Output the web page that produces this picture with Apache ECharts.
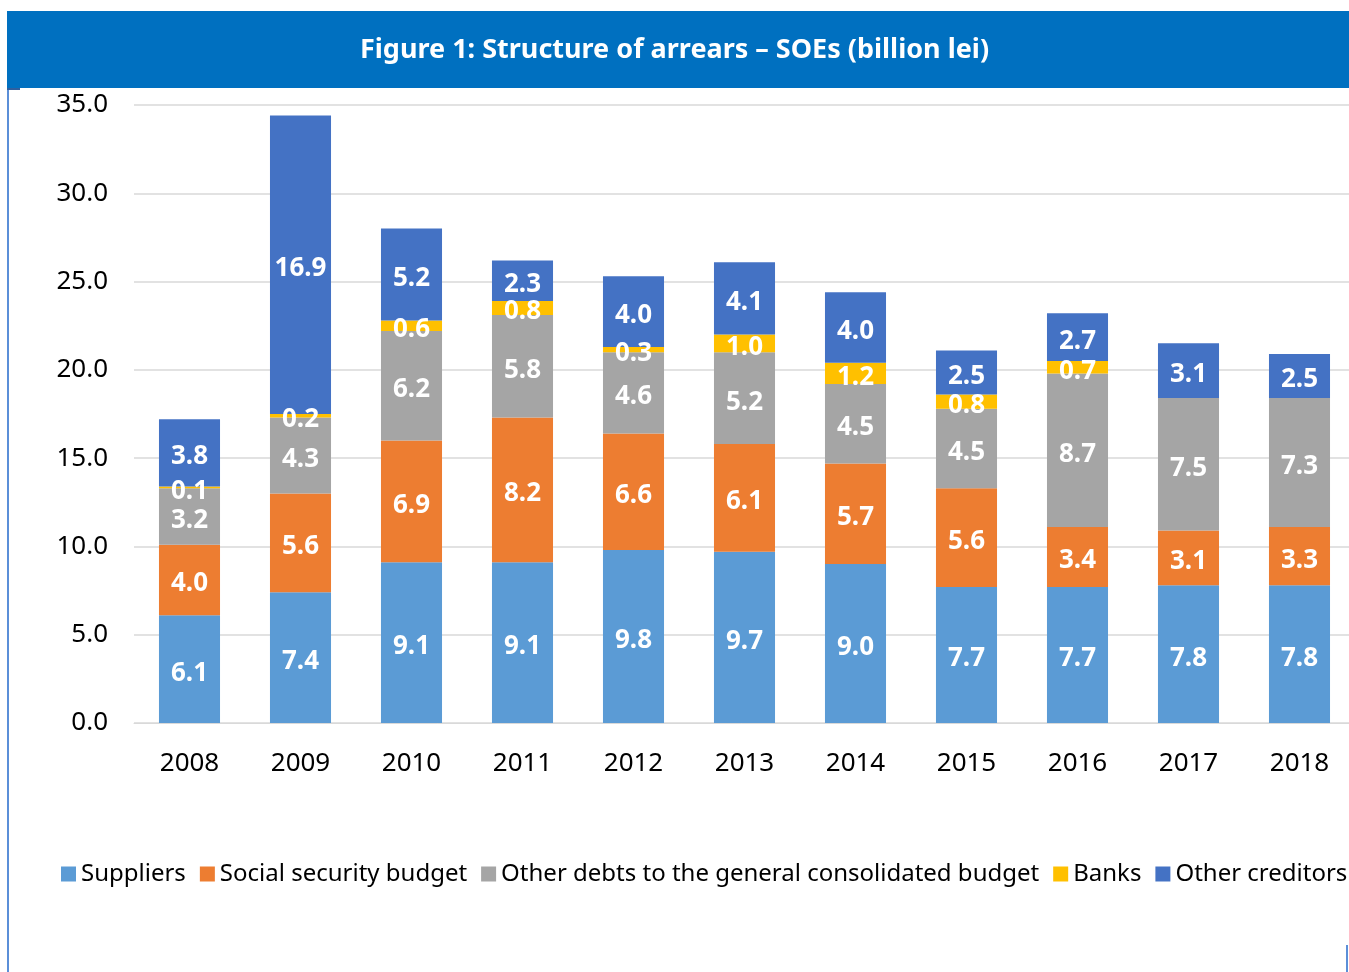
<!DOCTYPE html>
<html>
<head>
<meta charset="utf-8">
<script src="https://cdn.jsdelivr.net/npm/echarts@6/dist/echarts.min.js"></script>
<style>
  html, body { margin: 0; padding: 0; background: #fff; overflow: hidden; }
  #chart { width: 1349px; height: 972px; }
</style>
</head>
<body>
<div id="chart"></div>
<script>
  var years = ["2008", "2009", "2010", "2011", "2012", "2013", "2014", "2015", "2016", "2017", "2018"];
  var suppliers = [6.1, 7.4, 9.1, 9.1, 9.8, 9.7, 9.0, 7.7, 7.7, 7.8, 7.8];
  var socialSecurity = [4.0, 5.6, 6.9, 8.2, 6.6, 6.1, 5.7, 5.6, 3.4, 3.1, 3.3];
  var otherDebts = [3.2, 4.3, 6.2, 5.8, 4.6, 5.2, 4.5, 4.5, 8.7, 7.5, 7.3];
  var banks = [0.1, 0.2, 0.6, 0.8, 0.3, 1.0, 1.2, 0.8, 0.7, 0, 0];
  var otherCreditors = [3.8, 16.9, 5.2, 2.3, 4.0, 4.1, 4.0, 2.5, 2.7, 3.1, 2.5];

  var font = "'Noto Sans', sans-serif";
  var chart = echarts.init(document.getElementById("chart"));

  function mk(name, data, color) {
    return {
      name: name,
      type: "bar",
      stack: "total",
      barWidth: "55%",
      data: data,
      itemStyle: { color: color },
      label: {
        show: true,
        position: "inside",
        offset: [0, 4],
        color: "#fff",
        fontFamily: font,
        fontWeight: "bold",
        fontSize: 26,
        formatter: function (p) {
          return p.value > 0 ? p.value.toFixed(1) : "";
        }
      }
    };
  }

  var option = {
    animation: false,
    graphic: [
      { type: "rect", shape: { x: 7, y: 11, width: 1342, height: 77 }, style: { fill: "#0070C0" } },
      { type: "rect", shape: { x: 7, y: 88, width: 2, height: 884 }, style: { fill: "#5B8FD8" } },
      { type: "rect", shape: { x: 7, y: 88, width: 13, height: 2 }, style: { fill: "#2F5F9E" } },
      { type: "rect", shape: { x: 1346, y: 945, width: 2, height: 27 }, style: { fill: "#5B8FD8" } },
      {
        type: "text", left: "center", top: 37,
        style: { text: "Figure 1: Structure of arrears – SOEs (billion lei)", fill: "#fff", font: "bold 27px " + font }
      }
    ],
    legend: {
      left: 56,
      top: 857,
      width: 1600,
      itemWidth: 15,
      itemHeight: 15,
      itemGap: 14,
      icon: "rect",
      textStyle: { fontFamily: font, fontSize: 24, color: "#000" },
      data: ["Suppliers", "Social security budget", "Other debts to the general consolidated budget", "Banks", "Other creditors"]
    },
    grid: { left: 134, width: 1221, top: 105, height: 618, outerBoundsMode: "none" },
    xAxis: {
      type: "category",
      data: years,
      axisLine: { lineStyle: { color: "#D9D9D9" } },
      axisTick: { show: false },
      axisLabel: { color: "#000", fontFamily: font, fontSize: 26, margin: 28 }
    },
    yAxis: {
      type: "value",
      min: 0,
      max: 35,
      interval: 5,
      axisLabel: {
        color: "#000", fontFamily: font, fontSize: 26, margin: 26,
        formatter: function (v) { return v.toFixed(1); }
      },
      splitLine: { lineStyle: { color: "#D9D9D9", width: 1.5 } }
    },
    series: [
      mk("Suppliers", suppliers, "#5B9BD5"),
      mk("Social security budget", socialSecurity, "#ED7D31"),
      mk("Other debts to the general consolidated budget", otherDebts, "#A5A5A5"),
      mk("Banks", banks, "#FFC000"),
      mk("Other creditors", otherCreditors, "#4472C4")
    ]
  };

  chart.setOption(option);
</script>
</body>
</html>
